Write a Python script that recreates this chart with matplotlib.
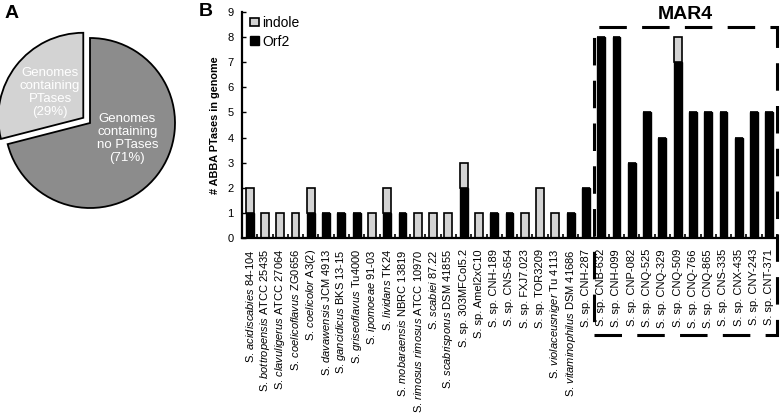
"""Panel A: share of genomes with ABBA PTases. Panel B: PTases per genome,
indole vs Orf2 type, with the MAR4 clade boxed."""
import matplotlib
matplotlib.use('Agg')
import matplotlib.pyplot as plt, numpy as np
from matplotlib.patches import Rectangle

plt.rcParams['font.family'] = ['Liberation Sans', 'DejaVu Sans']
plt.rcParams['mathtext.fontset'] = 'custom'
plt.rcParams['mathtext.rm'] = 'Liberation Sans'
plt.rcParams['mathtext.it'] = 'Liberation Sans:italic'

# --- panel A data
pie_labels = ['Genomes\ncontaining\nPTases\n(29%)', 'Genomes\ncontaining\nno PTases\n(71%)']
pie_vals = [29, 71]

# --- panel B data (species epithet in italics, then strain)
species = ['acidiscabies', 'bottropensis', 'clavuligerus', 'coelicoflavus', 'coelicolor',
           'davawensis', 'gancidicus', 'griseoflavus', 'ipomoeae', 'lividans',
           'mobaraensis', 'rimosus rimosus', 'scabiei', 'scabrisporus', '',
           '', '', '', '', '', 'violaceusniger', 'vitaminophilus', '',
           '', '', '', '', '', '', '', '', '', '', '', '']
strains = ['84-104', 'ATCC 25435', 'ATCC 27064', 'ZG0656', 'A3(2)',
           'JCM 4913', 'BKS 13-15', 'Tu4000', '91-03', 'TK24',
           'NBRC 13819', 'ATCC 10970', '87.22', 'DSM 41855', 'sp. 303MFCol5.2',
           'sp. Amel2xC10', 'sp. CNH-189', 'sp. CNS-654', 'sp. FXJ7.023', 'sp. TOR3209',
           'Tu 4113', 'DSM 41686', 'sp. CNH-287',
           'sp. CNB-632', 'sp. CNH-099', 'sp. CNP-082', 'sp. CNQ-525', 'sp. CNQ-329',
           'sp. CNQ-509', 'sp. CNQ-766', 'sp. CNQ-865', 'sp. CNS-335', 'sp. CNX-435',
           'sp. CNY-243', 'sp. CNT-371']
orf2   = [1, 0, 0, 0, 1, 1, 1, 1, 0, 1, 1, 0, 0, 0, 2, 0, 1, 1, 0, 0, 0, 1, 2,
          8, 8, 3, 5, 4, 7, 5, 5, 5, 4, 5, 5]
indole = [1, 1, 1, 1, 1, 0, 0, 0, 1, 1, 0, 1, 1, 1, 1, 1, 0, 0, 1, 2, 1, 0, 0,
          0, 0, 0, 0, 0, 1, 0, 0, 0, 0, 0, 0]
mar4_first = 23  # index of S. sp. CNB-632

def make_label(sp, st):
    if sp:
        return 'S. $\\mathit{' + sp.replace(' ', '\\ ') + '}$ ' + st
    return 'S. ' + st

labels = [make_label(s, t) for s, t in zip(species, strains)]

W, H = 781, 416
fig = plt.figure(figsize=(W/100, H/100), dpi=100)

# ---------------- panel A
cx, cy, r = 90, 123, 85
half = 1.2 * r
axA = fig.add_axes([(cx-half)/W, (H-cy-half)/H, 2*half/W, 2*half/H])
wedges, _ = axA.pie(pie_vals, startangle=90, counterclock=True, explode=[0.1, 0],
                    colors=['#d3d3d3', '#8c8c8c'],
                    wedgeprops=dict(edgecolor='black', linewidth=1.3))
axA.set_xlim(-1.2, 1.2); axA.set_ylim(-1.2, 1.2); axA.set_aspect('equal')
axA.text(-0.47, 0.36, pie_labels[0], color='white', ha='center', va='center',
         fontsize=9.5, linespacing=1.1)
axA.text(0.44, -0.18, pie_labels[1], color='white', ha='center', va='center',
         fontsize=9.5, linespacing=1.1)
fig.text(5/W, 1-5/H, 'A', fontsize=14, fontweight='bold', va='top', ha='left')

# ---------------- panel B
x0, x1, ytop, y0 = 242, 777, 12, 238
ax = fig.add_axes([x0/W, (H-y0)/H, (x1-x0)/W, (y0-ytop)/H])
x = np.arange(len(labels))
w = 0.52
ax.bar(x, orf2, w, color='black', edgecolor='black', linewidth=1, label='Orf2')
ax.bar(x, indole, w, bottom=orf2, color='#d3d3d3', edgecolor='black', linewidth=1.2,
       label='indole')
ax.set_xlim(-0.5, len(labels)-0.5); ax.set_ylim(0, 9)
ax.set_yticks(range(10))
ax.set_xticks(x); ax.set_xticklabels(labels, rotation=90, fontsize=8)
ax.set_xticks(np.arange(len(labels)+1)-0.5, minor=True)
ax.tick_params(axis='x', which='major', length=0, pad=8)
ax.tick_params(axis='x', which='minor', direction='in', length=3, width=1.2)
ax.tick_params(axis='y', direction='in', length=3, width=1, labelsize=8, pad=6)
for s in ('top', 'right'):
    ax.spines[s].set_visible(False)
for s in ('left', 'bottom'):
    ax.spines[s].set_linewidth(1.6)
ax.set_ylabel('# ABBA PTases in genome', fontsize=7.8, fontweight='bold', labelpad=5)

h, l = ax.get_legend_handles_labels()
ax.legend(h[::-1], l[::-1], loc='upper left', bbox_to_anchor=(0.0, 1.02), frameon=False,
          fontsize=10, handlelength=0.6, handleheight=0.6, handletextpad=0.25,
          labelspacing=0.35, borderaxespad=0.2)

# MAR4 dashed box
bx0 = mar4_first - 0.5
bx1 = len(labels) - 0.5
ax.add_patch(Rectangle((bx0, -3.88), bx1-bx0, 3.88+8.4, fill=False, edgecolor='black',
                       linewidth=2.2, linestyle=(0, (9, 5)), clip_on=False))
ax.text((bx0+bx1)/2, 8.55, 'MAR4', ha='center', va='bottom', fontsize=14,
        fontweight='bold')
fig.text(199/W, 1-3/H, 'B', fontsize=14, fontweight='bold', va='top', ha='left')

fig.savefig('out.png', dpi=100)
print('ok')
